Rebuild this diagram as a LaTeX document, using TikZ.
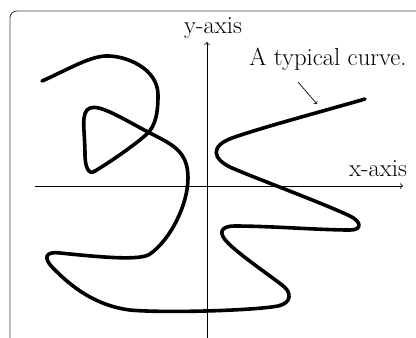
\documentclass[tikz,border=0pt]{standalone}
\begin{document}
\begin{tikzpicture}[x=0.75pt,y=-0.75pt,
  axis/.style={line width=0.6pt,-to},
  curveline/.style={line width=2.7pt,line join=round,line cap=round},
  lbl/.style={font=\fontsize{18.5}{22}\selectfont,inner sep=0pt},
  frame/.style={draw=black!75,line width=0.7pt,rounded corners=5pt}]
\useasboundingbox (0,0) rectangle (416,337);
\draw[frame] (10,345) -- (10,11) -- (425,11);
% axes
\coordinate (xl) at (35,186);
\coordinate (xr) at (403,186);
\coordinate (yb) at (207,340);
\coordinate (yt) at (207,42);
\draw[axis] (xl) -- (xr);
\draw[axis] (yb) -- (yt);
\node[lbl,anchor=base] (ylab) at (213,33) {y-axis};
\node[lbl,anchor=base] (xlab) at (378,176) {x-axis};
\node[lbl,anchor=base] (clab) at (328,65) {A typical curve.};
% curve
\draw[curveline] (42,81) .. controls (65,71) and (88,57) .. (105,56)
  .. controls (125,55) and (158,68) .. (158,95)
  .. controls (158,115) and (155,125) .. (148,133)
  .. controls (135,145) and (110,162) .. (95,171)
  .. controls (88,176) and (85,165) .. (85,155)
  .. controls (85,130) and (80,112) .. (90,108)
  .. controls (100,104) and (125,120) .. (148,132)
  .. controls (171,144) and (188,150) .. (188,178)
  .. controls (188,205) and (170,240) .. (150,254)
  .. controls (140,261) and (100,257) .. (60,253)
  .. controls (45,251) and (43,258) .. (53,268)
  .. controls (65,280) and (90,305) .. (130,310)
  .. controls (160,313) and (250,311) .. (278,306)
  .. controls (292,303) and (292,292) .. (282,285)
  .. controls (265,272) and (240,255) .. (228,243)
  .. controls (218,233) and (220,226) .. (235,226)
  .. controls (270,226) and (320,230) .. (350,230)
  .. controls (362,230) and (362,222) .. (350,216)
  .. controls (320,202) and (260,180) .. (232,168)
  .. controls (212,159) and (210,146) .. (232,138)
  .. controls (260,128) and (320,112) .. (365,99);
\coordinate (cfrom) at (298,82);
\coordinate (ctip) at (317,104);
\draw[line width=0.5pt,-to] (cfrom) -- (ctip);
\end{tikzpicture}
\end{document}
